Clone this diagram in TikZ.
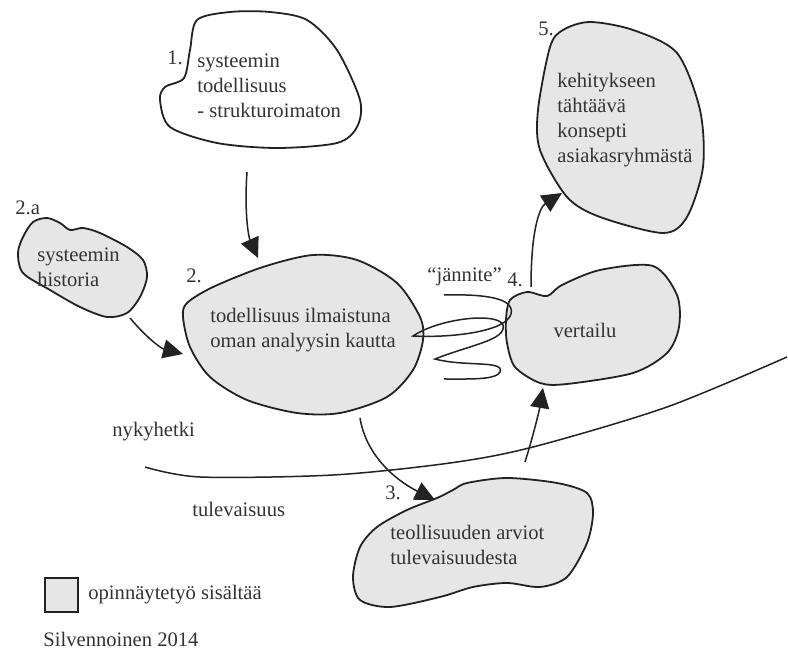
\documentclass[tikz,border=0pt]{standalone}
\usepackage{fontspec}
\setmainfont{Liberation Serif}
\usepackage{xcolor}
\usepackage{tikz}
\usetikzlibrary{arrows.meta}
\definecolor{blobgray}{HTML}{E6E6E6}
\definecolor{inkgray}{HTML}{333333}
\definecolor{linegray}{HTML}{222222}
\tikzstyle{blob}=[draw=linegray,line width=0.9pt,fill=blobgray]
\tikzstyle{openblob}=[draw=linegray,line width=0.9pt,fill=white]
\tikzstyle{txt}=[text=inkgray,font=\fontsize{10.3}{12.5}\selectfont,align=left,inner sep=0pt]
\tikzstyle{flow}=[draw=linegray,line width=0.75pt,-{Triangle[length=10pt,width=9.5pt]}]
\tikzstyle{thin}=[draw=linegray,line width=0.75pt]

\begin{document}
\begin{tikzpicture}[x=0.5pt,y=-0.5pt]
        \useasboundingbox (0,0) rectangle (788,651);

        % blobs
        \draw [openblob] plot [smooth cycle] coordinates {(197,20) (230,12) (270,12) (307,20) (337,50) (360,100) (357,127) (337,143) (277,148) (217,143) (170,127) (160,100) (165,87) (184,78) (190,50)};
        \draw [blob] plot [smooth cycle] coordinates {(33,222) (47,218) (60,223) (70,230) (83,228) (100,233) (127,247) (143,260) (147,277) (140,297) (127,313) (107,317) (80,307) (50,290) (23,273) (18,253) (23,237)};
        \draw [blob] plot [smooth cycle] coordinates {(187,303) (213,287) (263,267) (313,255) (357,260) (397,283) (420,317) (423,340) (413,370) (387,397) (340,413) (297,413) (247,400) (210,377) (190,347) (183,317)};
        \draw [blob] plot [smooth cycle] coordinates {(510,300) (527,292) (547,296) (562,285) (600,270) (653,266) (677,295) (679,327) (667,353) (633,373) (567,384) (540,383) (515,367) (507,343) (506,320)};
        \draw [blob] plot [smooth cycle] coordinates {(563,30) (590,22) (633,30) (677,53) (700,110) (703,167) (687,217) (663,233) (600,217) (567,197) (540,150) (538,110) (550,47)};
        \draw [blob] plot [smooth cycle] coordinates {(437,498) (453,490) (467,483) (507,478) (557,483) (587,493) (593,513) (587,543) (567,577) (540,587) (507,583) (473,587) (440,597) (390,607) (360,600) (353,577) (360,547) (377,527) (407,510)};

        % texts
        \node at (197,86)  [txt,anchor=west] (sys)     {systeemin\\todellisuus\\- strukturoimaton};
        \node at (37,267)  [txt,anchor=west] (hist)    {systeemin\\historia};
        \node at (210,330) [txt,anchor=west] (real)    {todellisuus ilmaistuna\\oman analyysin kautta};
        \node at (585,330) [txt]             (cmp)     {vertailu};
        \node at (557,120) [txt,anchor=west] (concept) {kehitykseen\\tähtäävä\\konsepti\\asiakasryhmästä};
        \node at (390,545) [txt,anchor=west] (future)  {teollisuuden arviot\\tulevaisuudesta};

        \node at (167,65)  [txt,anchor=base west] (n1)  {1.};
        \node at (15,215)  [txt,anchor=base west] (n2a) {2.a};
        \node at (186,283) [txt,anchor=base west] (n2)  {2.};
        \node at (385,500) [txt,anchor=base west] (n3)  {3.};
        \node at (507,287) [txt,anchor=base west] (n4)  {4.};
        \node at (538,36)  [txt,anchor=base west] (n5)  {5.};
        \node at (427,282) [txt,anchor=base west] (tension) {“jännite”};
        \node at (112,437) [txt,anchor=base west] (now)     {nykyhetki};
        \node at (192,517) [txt,anchor=base west] (later)   {tulevaisuus};

        % timeline and coil
        \draw [thin] plot [smooth] coordinates {(145,467) (200,477) (333,475) (450,463) (533,447) (667,407) (787,357)};
        \draw [thin] (444,295) .. controls (485,294) and (515,298) .. (511,314)
                .. controls (506,332) and (450,338) .. (413,336)
                .. controls (440,318) and (498,312) .. (503,325)
                .. controls (507,340) and (470,345) .. (435,359)
                .. controls (465,367) and (505,360) .. (500,372)
                .. controls (496,380) and (470,379) .. (444,379);

        % connector ends
        \coordinate (sys-out)  at (247,172);
        \coordinate (real-in1) at (258,258);
        \coordinate (hist-out) at (130,318);
        \coordinate (real-in2) at (183,354);
        \coordinate (real-out) at (360,418);
        \coordinate (fut-in)   at (435,500);
        \coordinate (fut-out)  at (525,462);
        \coordinate (cmp-in)   at (543,388);
        \coordinate (cmp-out)  at (531,287);
        \coordinate (con-in)   at (562,193);

        \draw [flow] (sys-out) .. controls (244,215) and (249,238) .. (real-in1);
        \draw [flow] (hist-out) .. controls (145,336) and (160,348) .. (real-in2);
        \draw [flow] (real-out) .. controls (366,455) and (395,480) .. (fut-in);
        \draw [flow] (fut-out) .. controls (532,440) and (539,412) .. (cmp-in);
        \draw [flow] (cmp-out) .. controls (531,228) and (540,207) .. (con-in);

        % legend
        \draw [blob,line width=0.75pt] (45,578) rectangle (78,612);
        \node at (88,600) [txt,anchor=base west] (legend) {opinnäytetyö sisältää};
        \node at (43,647) [txt,anchor=base west] (source) {Silvennoinen 2014};
\end{tikzpicture}
\end{document}
